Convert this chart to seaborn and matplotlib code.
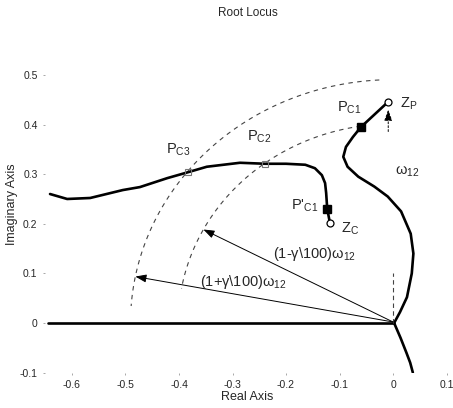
import numpy as np
import pandas as pd
import matplotlib
matplotlib.use("Agg")
import matplotlib.pyplot as plt
import seaborn as sns

# ---------------- data ----------------
real_axis_x = [-0.645, 0.002]
real_axis_y = [0.0, 0.0]

lower_branch_x = [0.002, 0.014, 0.025, 0.032, 0.037]
lower_branch_y = [0.0, -0.030, -0.060, -0.080, -0.100]

right_branch_x = [0.002, 0.013, 0.026, 0.035, 0.038, 0.033, 0.015, -0.010,
                  -0.035, -0.065, -0.085, -0.093, -0.088, -0.075, -0.060, -0.009]
right_branch_y = [0.0, 0.022, 0.052, 0.100, 0.140, 0.180, 0.225, 0.255,
                  0.275, 0.295, 0.315, 0.335, 0.355, 0.375, 0.395, 0.446]

left_branch_x = [-0.118, -0.123, -0.125, -0.127, -0.133, -0.146, -0.164, -0.200,
                 -0.239, -0.286, -0.348, -0.383, -0.422, -0.473, -0.505, -0.566,
                 -0.609, -0.641]
left_branch_y = [0.202, 0.230, 0.262, 0.282, 0.298, 0.312, 0.319, 0.321,
                 0.321, 0.323, 0.315, 0.304, 0.292, 0.274, 0.268, 0.252,
                 0.250, 0.260]

omega12 = 0.446
gamma = 10
inner_arc_deg = [98.6, 170.0]
outer_arc_deg = [93.0, 176.0]
inner_arrow_deg = 152.0
outer_arrow_deg = 169.0

zero_p = (-0.009, 0.446)
zero_c = (-0.118, 0.202)
p_c1 = (-0.060, 0.395)
p_c1_prime = (-0.123, 0.230)
p_c2 = (-0.239, 0.321)
p_c3 = (-0.383, 0.304)

x_ticks = [-0.6, -0.5, -0.4, -0.3, -0.2, -0.1, 0.0, 0.1]
x_tick_labels = ["-0.6", "-0.5", "-0.4", "-0.3", "-0.2", "-0.1", "0", "0.1"]
y_ticks = [-0.1, 0.0, 0.1, 0.2, 0.3, 0.4, 0.5]
y_tick_labels = ["-0.1", "0", "0.1", "0.2", "0.3", "0.4", "0.5"]

# ---------------- style ----------------
sns.set_theme(style="white")
plt.rcParams["font.family"] = ["Liberation Sans", "DejaVu Sans"]
plt.rcParams["mathtext.default"] = "regular"

fig = plt.figure(figsize=(4.53, 4.08), dpi=100)
ax = fig.add_axes([0.0998, 0.0868, 0.886, 0.851])
ax.set_xlim(-0.65, 0.1)
ax.set_ylim(-0.1, 0.6)
for s in ax.spines.values():
    s.set_visible(False)

def locus(xs, ys):
    df = pd.DataFrame({"x": xs, "y": ys})
    sns.lineplot(data=df, x="x", y="y", sort=False, estimator=None,
                 color="black", linewidth=1.9, ax=ax)

locus(real_axis_x, real_axis_y)
locus(lower_branch_x, lower_branch_y)
locus(right_branch_x, right_branch_y)
locus(left_branch_x, left_branch_y)

# constant-frequency arcs
r_in = omega12 * (1 - gamma / 100)
r_out = omega12 * (1 + gamma / 100)
for r, (a0, a1) in [(r_in, inner_arc_deg), (r_out, outer_arc_deg)]:
    th = np.radians(np.linspace(a0, a1, 120))
    arc = pd.DataFrame({"x": r * np.cos(th), "y": r * np.sin(th)})
    sns.lineplot(data=arc, x="x", y="y", sort=False, estimator=None,
                 color="#444444", linewidth=0.8, linestyle=(0, (4, 4)), ax=ax)

# radius arrows
head = "-|>,head_length=0.55,head_width=0.2"
for r, a in [(r_in, inner_arrow_deg), (r_out, outer_arrow_deg)]:
    t = np.radians(a)
    ax.annotate("", xy=(r * np.cos(t), r * np.sin(t)), xytext=(0.0, 0.002),
                arrowprops=dict(arrowstyle=head, color="black", lw=0.7,
                                shrinkA=0, shrinkB=0))

# vertical dashed omega line pieces
ax.plot([0.0, 0.0], [0.0, 0.1], color="#444444", lw=0.8, linestyle=(0, (4, 3)))
ax.annotate("", xy=(zero_p[0], zero_p[1] - 0.016), xytext=(zero_p[0], zero_p[1] - 0.06),
            arrowprops=dict(arrowstyle=head, color="black", lw=0.7,
                            linestyle=(0, (2, 2)), shrinkA=0, shrinkB=0))

# markers
ax.plot(*zero_p, marker="o", ms=5, mfc="white", mec="black", mew=0.9)
ax.plot(*zero_c, marker="o", ms=5, mfc="white", mec="black", mew=0.9)
ax.plot(*p_c1, marker="s", ms=5.5, mfc="black", mec="black")
ax.plot(*p_c1_prime, marker="s", ms=5.5, mfc="black", mec="black")
ax.plot(*p_c2, marker="s", ms=5, mfc="none", mec="#777777", mew=0.8)
ax.plot(*p_c3, marker="s", ms=5, mfc="none", mec="#777777", mew=0.8)

# labels
fs = 10.5
ax.text(-0.402, 0.349, "P$_{C3}$", fontsize=fs, ha="center", va="center")
ax.text(-0.250, 0.376, "P$_{C2}$", fontsize=fs, ha="center", va="center")
ax.text(-0.082, 0.433, "P$_{C1}$", fontsize=fs, ha="center", va="center")
ax.text(0.030, 0.442, "Z$_P$", fontsize=fs, ha="center", va="center")
ax.text(0.026, 0.305, "ω$_{12}$", fontsize=fs, ha="center", va="center")
ax.text(-0.166, 0.236, "P'$_{C1}$", fontsize=fs, ha="center", va="center")
ax.text(-0.080, 0.190, "Z$_C$", fontsize=fs, ha="center", va="center")
ax.text(-0.146, 0.139, "(1-γ\\100)ω$_{12}$", fontsize=fs, ha="center", va="center")
ax.text(-0.279, 0.083, "(1+γ\\100)ω$_{12}$", fontsize=fs, ha="center", va="center")

# axes ticks / labels
ax.set_xticks(x_ticks)
ax.set_xticklabels(x_tick_labels)
ax.set_yticks(y_ticks)
ax.set_yticklabels(y_tick_labels)
ax.tick_params(axis="both", labelsize=7.5, length=1.5, width=0.6,
               color="#999999", direction="out", pad=4, bottom=True, left=True)
ax.set_xlabel("")
ax.set_ylabel("")
fig.text(0.545, 0.027, "Real Axis", fontsize=9, ha="center", va="center")
fig.text(0.027, 0.50, "Imaginary Axis", fontsize=9, ha="center", va="center",
         rotation=90)
fig.text(0.547, 0.967, "Root Locus", fontsize=8.5, ha="center", va="center")

fig.savefig("out.png", dpi=100)
